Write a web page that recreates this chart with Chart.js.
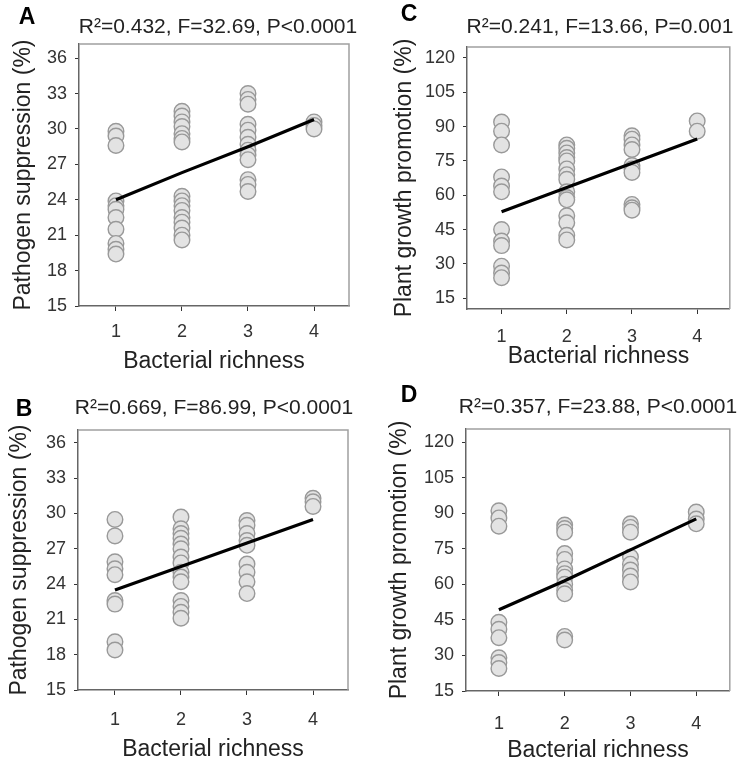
<!DOCTYPE html>
<html>
<head>
<meta charset="utf-8">
<script src="https://cdn.jsdelivr.net/npm/chart.js@4"></script>
<style>
  html, body { margin: 0; padding: 0; background: #fff; }
  #wrap { position: relative; width: 739px; height: 762px; overflow: hidden; }
  canvas { position: absolute; }
</style>
</head>
<body>
<div id="wrap">
  <canvas id="chartA" width="370" height="381" style="left:0;top:0"></canvas>
  <canvas id="chartC" width="369" height="381" style="left:370px;top:0"></canvas>
  <canvas id="chartB" width="370" height="381" style="left:0;top:381px"></canvas>
  <canvas id="chartD" width="369" height="381" style="left:370px;top:381px"></canvas>
</div>
<script>
// categories and tick labels
const richness = [1, 2, 3, 4];
const suppressionTicks = [15, 18, 21, 24, 27, 30, 33, 36];
const growthTicks = [15, 30, 45, 60, 75, 90, 105, 120];

// A - pathogen suppression, one array per richness level
const a_r1 = [29.8, 29.4, 28.6, 23.9, 23.5, 23.2, 22.5, 21.5, 20.3, 19.8, 19.4];
const a_r2 = [31.5, 31.1, 30.6, 30.2, 29.6, 29.2, 28.9, 24.3, 23.9, 23.5, 23.1, 22.5, 22.1, 21.6, 21.0, 20.6];
const a_r3 = [33.0, 32.5, 32.1, 30.4, 29.9, 29.3, 28.7, 28.2, 27.8, 27.4, 25.7, 25.3, 24.7];
const a_r4 = [30.6, 30.3, 30.0];
const a_fit = [24.0, 26.3, 28.5, 30.8];

// B - pathogen suppression
const b_r1 = [29.5, 28.1, 25.9, 25.3, 24.8, 22.6, 22.3, 19.1, 18.4];
const b_r2 = [29.7, 28.7, 28.3, 27.9, 27.4, 27.0, 26.3, 25.8, 25.0, 24.6, 24.2, 22.6, 22.1, 21.6, 21.1];
const b_r3 = [29.4, 29.0, 28.3, 27.7, 27.3, 25.7, 25.0, 24.2, 23.2];
const b_r4 = [31.3, 31.0, 30.6];
const b_fit = [23.5, 25.5, 27.5, 29.5];

// C - plant growth promotion
const c_r1 = [92, 88, 82, 68, 64, 61.5, 45, 40, 38, 29, 26, 24];
const c_r2 = [82, 80.5, 78.5, 76.5, 75, 71.5, 69, 67, 61.5, 59, 58, 51, 48, 42.5, 40.5];
const c_r3 = [86, 84.5, 82, 80, 73, 71.5, 70, 56, 54.5, 53.5];
const c_r4 = [92.5, 88];
const c_fit = [52.8, 63.4, 74.0, 84.6];

// D - plant growth promotion
const d_r1 = [91, 88, 84.5, 44, 41, 37.5, 29, 27, 24.5];
const d_r2 = [85, 83.5, 82, 73, 70.5, 66.5, 64.5, 63, 60, 57.5, 56, 38, 36.5];
const d_r3 = [85.5, 84, 82, 71.5, 68.5, 66, 63.5, 61];
const d_r4 = [90.5, 87.5, 85.5];
const d_fit = [49.3, 61.5, 74.5, 87.6];

const statsA = "R\u00b2=0.432, F=32.69, P<0.0001";
const statsB = "R\u00b2=0.669, F=86.99, P<0.0001";
const statsC = "R\u00b2=0.241, F=13.66, P=0.001";
const statsD = "R\u00b2=0.357, F=23.88, P<0.0001";

const xTitle = "Bacterial richness";
const suppressionTitle = "Pathogen suppression (%)";
const growthTitle = "Plant growth promotion (%)";

const FONT = "'Liberation Sans', Arial, sans-serif";

function toPoints(groups) {
    return groups.flatMap((ys, i) => ys.map(y => ({ x: richness[i], y: y })));
}

// letter, stats line and the light top/right frame
const panelText = {
    id: "panelText",
    beforeDatasetsDraw(chart, args, opts) {
        const ctx = chart.ctx;
        const a = chart.chartArea;
        ctx.save();
        ctx.strokeStyle = "#a0a0a0";
        ctx.lineWidth = 1.5;
        ctx.beginPath();
        ctx.moveTo(a.left, a.top);
        ctx.lineTo(a.right, a.top);
        ctx.lineTo(a.right, a.bottom);
        ctx.stroke();
        ctx.restore();
    },
    afterDraw(chart, args, opts) {
        const ctx = chart.ctx;
        ctx.save();
        ctx.textAlign = "center";
        ctx.textBaseline = "middle";
        ctx.fillStyle = "#000";
        ctx.font = "bold 23px " + FONT;
        ctx.fillText(opts.letter, opts.letterX, opts.letterY);
        ctx.fillStyle = "#222";
        ctx.font = "21px " + FONT;
        ctx.fillText(opts.stats, opts.statsX, opts.statsY);
        ctx.restore();
    }
};

function makeChart(id, p) {
    const conf = {
        type: "scatter",
        data: {
            datasets: [
                {
                    type: "line",
                    data: richness.map((x, i) => ({ x: x, y: p.fit[i] })),
                    borderColor: "#000",
                    borderWidth: 3.2,
                    pointRadius: 0,
                    showLine: true,
                    fill: false
                },
                {
                    data: toPoints(p.groups),
                    pointRadius: 7.8,
                    pointBackgroundColor: "#e3e3e3",
                    pointBorderColor: "#999",
                    pointBorderWidth: 1.4
                }
            ]
        },
        options: {
            responsive: false,
            animation: false,
            layout: { padding: { top: p.top, right: p.right, left: 0, bottom: 0 } },
            plugins: {
                legend: { display: false },
                tooltip: { enabled: false },
                panelText: p.text
            },
            scales: {
                x: {
                    type: "linear",
                    min: p.xMin,
                    max: p.xMax,
                    afterBuildTicks: s => { s.ticks = richness.map(v => ({ value: v })); },
                    afterFit: s => { s.height = p.xH; },
                    grid: { display: true, drawOnChartArea: false, drawTicks: true, tickLength: 5, color: "#333", lineWidth: 1 },
                    border: { display: true, color: "#666", width: 1.5 },
                    ticks: { padding: p.xTickPad, color: "#333", font: { family: FONT, size: 18 } },
                    title: { display: true, text: xTitle, color: "#222", font: { family: FONT, size: 23, lineHeight: 1 }, padding: { top: 0, bottom: p.xTitlePad } }
                },
                y: {
                    type: "linear",
                    min: p.yMin,
                    max: p.yMax,
                    afterBuildTicks: s => { s.ticks = p.yTicks.map(v => ({ value: v })); },
                    afterFit: s => { s.width = p.yW; },
                    grid: { display: true, drawOnChartArea: false, drawTicks: true, tickLength: 4, color: "#333", lineWidth: 1 },
                    border: { display: true, color: "#666", width: 1.5 },
                    ticks: { padding: 8, color: "#333", font: { family: FONT, size: 18 } },
                    title: { display: true, text: p.yTitle, color: "#222", font: { family: FONT, size: 23, lineHeight: 1 }, padding: { top: p.yTitlePad, bottom: 0 } }
                }
            }
        },
        plugins: [panelText]
    };
    return new Chart(document.getElementById(id), conf);
}

makeChart("chartA", {
    groups: [a_r1, a_r2, a_r3, a_r4], fit: a_fit,
    yTicks: suppressionTicks, yMin: 15, yMax: 37.2, xMin: 0.44, xMax: 4.53,
    yTitle: suppressionTitle,
    top: 44, right: 21, yW: 79, xH: 75, xTickPad: 10, xTitlePad: 7.5, yTitlePad: 12.5,
    text: { letter: "A", letterX: 27, letterY: 18, stats: statsA, statsX: 218, statsY: 27 }
});

makeChart("chartB", {
    groups: [b_r1, b_r2, b_r3, b_r4], fit: b_fit,
    yTicks: suppressionTicks, yMin: 15, yMax: 37.1, xMin: 0.44, xMax: 4.53,
    yTitle: suppressionTitle,
    top: 49, right: 22, yW: 78, xH: 72, xTickPad: 14, xTitlePad: 0.5, yTitlePad: 8.5,
    text: { letter: "B", letterX: 24, letterY: 29, stats: statsB, statsX: 214, statsY: 27 }
});

makeChart("chartC", {
    groups: [c_r1, c_r2, c_r3, c_r4], fit: c_fit,
    yTicks: growthTicks, yMin: 10.3, yMax: 124.8, xMin: 0.47, xMax: 4.5,
    yTitle: growthTitle,
    top: 47, right: 6, yW: 97, xH: 72, xTickPad: 12, xTitlePad: 12.5, yTitlePad: 23.5,
    text: { letter: "C", letterX: 39, letterY: 15, stats: statsC, statsX: 230, statsY: 27 }
});

makeChart("chartD", {
    groups: [d_r1, d_r2, d_r3, d_r4], fit: d_fit,
    yTicks: growthTicks, yMin: 15, yMax: 125.5, xMin: 0.5, xMax: 4.51,
    yTitle: growthTitle,
    top: 48, right: 6, yW: 96, xH: 71, xTickPad: 17, xTitlePad: 0, yTitlePad: 18.5,
    text: { letter: "D", letterX: 39, letterY: 15, stats: statsD, statsX: 228, statsY: 26 }
});
</script>
</body>
</html>
